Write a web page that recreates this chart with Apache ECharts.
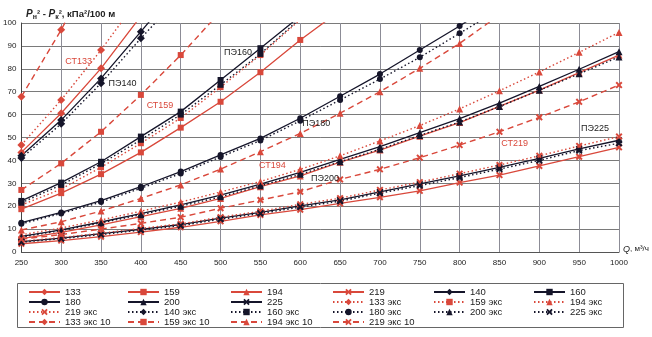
<!DOCTYPE html>
<html><head><meta charset="utf-8">
<script src="https://cdn.jsdelivr.net/npm/echarts@6/dist/echarts.min.js"></script>
<style>html,body{margin:0;padding:0;background:#fff}#c{width:652px;height:337px}</style>
</head><body><div id="c"></div>
<script>
const Q = [250,300,350,400,450,500,550,600,650,700,750,800,850,900,950,1000];
const yTicks = [0,10,20,30,40,50,60,70,80,90,100];
// red steel pipes (СТ)
const s133 = [43.5,60.6,80.2,103];
const s159 = [18.7,25.7,34,43.5,54.3,65.6,78.5,92.6,105.4];
const s194 = [5.8,8.6,11.8,15.4,19.1,23.4,28.5,33.2,39.2,44.5,50.6,56.5,63.6,70.7,78.3,86];
const s219 = [3.6,5,6.7,8.7,10.8,13.4,16.2,18.5,21.2,23.9,26.7,30.3,33.6,37.6,41.6,45.7];
// black polyethylene pipes (ПЭ)
const s140 = [42,57.6,75.8,96.2,117];
const s160 = [22.3,30.3,39.4,50.4,61.3,75.1,89,103];
const s180 = [12.8,17.3,22.4,28.5,35.1,42.4,49.6,58.4,68,77.7,88.2,98.7,110];
const s200 = [6.8,9.7,13.1,16.8,20.6,24.8,29.6,34.8,40.4,46,52.1,58.2,65,72.3,79.8,87.5];
const s225 = [4.5,6.1,8,9.9,12,14.8,17.3,20.1,22.8,26.3,29.7,33.2,37,40.9,45,48.8];
// экс
const s133e = [46.7,66.4,88.2,112];
const s159e = [20.5,27.5,37,47.5,58.5,72,86,101.5];
const s194e = [7.5,10.5,14,17.8,21.8,26.2,30.8,36.1,42,48.5,55.2,62.5,70.4,78.6,87.2,95.9];
const s219e = [4.7,6.3,8.2,10.3,12.3,15.2,17.8,20.8,23.5,27.1,30.5,34.2,38,42,46.3,50.4];
const s140e = [41,56,73.7,93.3,112];
const s160e = [21.5,29.3,38.5,49,60,73,86.5,102];
const s180e = [12.3,16.8,21.8,27.8,34.3,41.5,48.7,57.3,66.4,75.5,85,95.5,106];
const s200e = [6.5,9.4,12.7,16.3,20,24.1,28.9,33.9,39.4,44.9,50.9,56.8,63.5,70.6,77.8,85.2];
const s225e = [4.3,5.8,7.6,9.6,11.5,14.3,16.8,19.6,22.2,25.7,29,32.5,36.2,40,44.3,47.5];
// экс 10
const s133e10 = [67.8,97,130];
const s159e10 = [27.1,38.7,52.5,68.6,86,105];
const s194e10 = [9.6,13.2,17.9,23.4,29.3,36.2,43.8,51.8,60.6,70,80.2,91.1,103.5];
const s219e10 = [5.6,7.6,10,12.5,15.2,19.1,22.7,26.3,31.7,36.1,41.2,46.7,52.5,58.8,65.6,72.9];
// curve labels
const labNames = ['СТ133','ПЭ140','СТ159','ПЭ160','ПЭ180','СТ194','ПЭ200','ПЭ225','СТ219'];
const labQ = [322,377,424,522,620,565,631,970,869];
const labV = [83,73.4,63.8,86.9,55.9,37.6,32.1,53.9,47.4];
const labRed = [true,false,true,false,false,true,false,false,true];

const RED = '#d9483b', BLK = '#15152a';
const FONT = 'Liberation Sans, Arial';
const XS = 'path://M2,0 L5,3 L8,0 L10,2 L7,5 L10,8 L8,10 L5,7 L2,10 L0,8 L3,5 L0,2 Z';
const SYM = {d:['diamond',8], s:['rect',6], c:['circle',6], t:['triangle',7], x:[XS,7]};
function mk(name, arr, color, style, sym) {
  const ls = {color: color, width: style==='solid'?1.3:1.4,
    type: style==='solid'?'solid':(style==='dotted'?[1.5,2.5]:[6,4])};
  return {name:name, type:'line', data: arr.map((v,i)=>[Q[i],v]), clip:true,
    symbol: SYM[sym][0], symbolSize: SYM[sym][1], showSymbol:true,
    itemStyle:{color:color}, lineStyle:ls, emphasis:{disabled:true}, z:3};
}
const series = [
  mk('133',s133,RED,'solid','d'), mk('159',s159,RED,'solid','s'), mk('194',s194,RED,'solid','t'),
  mk('219',s219,RED,'solid','x'), mk('140',s140,BLK,'solid','d'), mk('160',s160,BLK,'solid','s'),
  mk('180',s180,BLK,'solid','c'), mk('200',s200,BLK,'solid','t'), mk('225',s225,BLK,'solid','x'),
  mk('133 экс',s133e,RED,'dotted','d'), mk('159 экс',s159e,RED,'dotted','s'), mk('194 экс',s194e,RED,'dotted','t'),
  mk('219 экс',s219e,RED,'dotted','x'), mk('140 экс',s140e,BLK,'dotted','d'), mk('160 экс',s160e,BLK,'dotted','s'),
  mk('180 экс',s180e,BLK,'dotted','c'), mk('200 экс',s200e,BLK,'dotted','t'), mk('225 экс',s225e,BLK,'dotted','x'),
  mk('133 экс 10',s133e10,RED,'dashed','d'), mk('159 экс 10',s159e10,RED,'dashed','s'),
  mk('194 экс 10',s194e10,RED,'dashed','t'), mk('219 экс 10',s219e10,RED,'dashed','x')
];

const cols = [
  ['133','180','219 экс','133 экс 10'],
  ['159','200','140 экс','159 экс 10'],
  ['194','225','160 экс','194 экс 10'],
  ['219','133 экс','180 экс','219 экс 10'],
  ['140','159 экс','200 экс'],
  ['160','194 экс','225 экс']
];
const colLeft = [28,127,230,332,433,533];
const legends = cols.map((c,i)=>({data:c, orient:'vertical', left:colLeft[i], top:287,
  itemWidth:31, itemHeight:8, itemGap:0, padding:0, selectedMode:false,
  textStyle:{fontSize:9.5, lineHeight:10, color:'#222', fontFamily:FONT}}));

const chart = echarts.init(document.getElementById('c'), null, {renderer:'canvas'});
chart.setOption({
  animation:false,
  grid:{left:18, right:33, top:23, bottom:85},
  title:{left:21, top:2,
    text:'{i|P}{sb|н}{n|² - }{i|P}{sb|к}{n|², кПа²/100 м}',
    textStyle:{rich:{
      i:{fontSize:10, fontStyle:'italic', color:'#222', fontFamily:FONT, lineHeight:14, verticalAlign:'middle'},
      n:{fontSize:9.5, color:'#222', fontFamily:FONT, lineHeight:14, verticalAlign:'middle'},
      sb:{fontSize:7, color:'#222', fontFamily:FONT, lineHeight:7, verticalAlign:'bottom'}
    }}},
  legend: legends,
  xAxis:{type:'value', min:250, max:1000, interval:50,
    name:'{i|Q}, м³/ч', nameLocation:'end', nameGap:4,
    nameTextStyle:{fontSize:8, color:'#222', padding:[0,0,6,0], rich:{i:{fontSize:9,fontStyle:'italic',color:'#222'}}},
    axisLine:{show:true, lineStyle:{color:'#555', width:1}}, axisTick:{show:false},
    axisLabel:{fontSize:8, color:'#222', margin:7, fontFamily:FONT, formatter:v=>String(v)},
    splitLine:{show:true, lineStyle:{color:'#8c8c96', width:1}}},
  yAxis:{type:'value', min:0, max:100, interval:10,
    axisLine:{show:true, lineStyle:{color:'#444', width:1}}, axisTick:{show:false},
    axisLabel:{fontSize:8, color:'#222', margin:5, fontFamily:FONT, formatter:v=>String(v)},
    splitLine:{show:true, lineStyle:{color:'#7a7a7a', width:1}}},
  series: series
});
// curve name annotations placed through the chart's own coordinate conversion
const gr = [{type:'rect', shape:{x:17.5, y:283.5, width:606, height:44}, silent:true,
  style:{fill:'none', stroke:'#666', lineWidth:1}}];
labNames.forEach((n,i)=>{
  const p = chart.convertToPixel({gridIndex:0}, [labQ[i], labV[i]]);
  gr.push({type:'text', x:p[0], y:p[1], silent:true, z:10,
    style:{text:n, fill: labRed[i]?RED:'#1a1a1a', font:'9px '+FONT, align:'center', verticalAlign:'middle'}});
});
chart.setOption({graphic: gr});
</script></body></html>
